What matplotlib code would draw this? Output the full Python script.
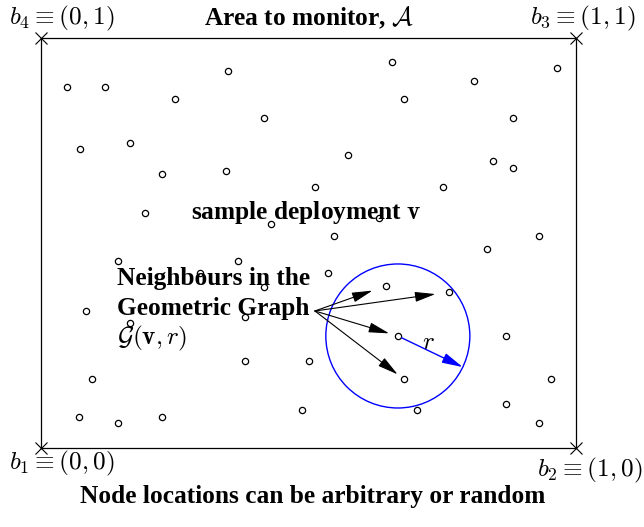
import numpy as np
import matplotlib
matplotlib.use("Agg")
import matplotlib.pyplot as plt
from matplotlib.patches import Ellipse

plt.rcParams['font.family'] = ['Liberation Serif', 'DejaVu Serif']
plt.rcParams['mathtext.fontset'] = 'cm'

# node locations in the unit square
node_x = [0.048, 0.120, 0.350, 0.250, 0.417, 0.072, 0.167, 0.226, 0.346, 0.513,
          0.194, 0.429, 0.656, 0.965, 0.810, 0.679, 0.882, 0.573, 0.845, 0.882,
          0.751, 0.631, 0.548, 0.930, 0.143, 0.369, 0.297, 0.417, 0.536, 0.084,
          0.381, 0.166, 0.381, 0.500, 0.095, 0.071, 0.143, 0.226, 0.488, 0.834,
          0.644, 0.763, 0.667, 0.870, 0.953, 0.679, 0.703, 0.870, 0.930]
node_y = [0.879, 0.879, 0.919, 0.849, 0.804, 0.727, 0.743, 0.667, 0.674, 0.636,
          0.571, 0.546, 0.940, 0.925, 0.895, 0.849, 0.804, 0.713, 0.698, 0.682,
          0.636, 0.560, 0.516, 0.516, 0.455, 0.455, 0.426, 0.392, 0.425, 0.334,
          0.318, 0.304, 0.212, 0.212, 0.166, 0.075, 0.060, 0.075, 0.091, 0.485,
          0.394, 0.379, 0.272, 0.272, 0.166, 0.166, 0.091, 0.106, 0.060]

# corners of the area
corner_x = [0, 1, 1, 0]
corner_y = [0, 0, 1, 1]

centre = 42            # node whose neighbourhood is shown
neighbours = [40, 41, 42, 45]
r = 0.1346             # radius, in x units
r_angle = -25.6        # direction of the radius arrow (deg)

W, H = 644, 527
box = (41, 447.5, 535, 410)   # left, bottom, width, height in pixels
aspect = box[2] / box[3]

fig = plt.figure(figsize=(W / 100, H / 100), dpi=100)
ax = fig.add_axes([box[0] / W, 1 - box[1] / H, box[2] / W, box[3] / H])
ax.set_xlim(0, 1)
ax.set_ylim(0, 1)
ax.axis('off')

ax.plot(corner_x + corner_x[:1], corner_y + corner_y[:1], color='k', lw=0.9, clip_on=False)
ax.plot(corner_x, corner_y, 'x', color='k', ms=9, mew=0.8, clip_on=False)
ax.plot(node_x, node_y, 'o', mfc='none', mec='k', ms=4.5, mew=0.9, ls='none',
        clip_on=False, zorder=3)

cx, cy = node_x[centre], node_y[centre]
ax.add_patch(Ellipse((cx, cy), 2 * r, 2 * r * aspect, fill=False, ec='blue', lw=1))
th = np.deg2rad(r_angle)
ax.annotate('', xy=(cx + r * np.cos(th), cy + r * aspect * np.sin(th)), xytext=(cx, cy),
            arrowprops=dict(arrowstyle='-|>,head_length=0.9,head_width=0.22', color='blue',
                            lw=1, shrinkA=3, shrinkB=0, mutation_scale=14))
ax.text(0.724, 0.254, r'$r$', fontsize=18, ha='center', va='center')

src = (0.512, 0.333)
shrinks = [10, 10, 6.5, 6]
for i, s in zip(neighbours, shrinks):
    ax.annotate('', xy=(node_x[i], node_y[i]), xytext=src,
                arrowprops=dict(arrowstyle='-|>,head_length=0.9,head_width=0.22', color='k',
                                lw=0.8, shrinkA=0, shrinkB=s, mutation_scale=14))

fm = 18.2   # maths labels
fb = 18.3   # bold labels
fig.text(9 / W, 1 - 18 / H, r'$b_4 \equiv (0,1)$', fontsize=fm, ha='left', va='center')
fig.text(530 / W, 1 - 18 / H, r'$b_3 \equiv (1,1)$', fontsize=fm, ha='left', va='center')
fig.text(9 / W, 1 - 463 / H, r'$b_1 \equiv (0,0)$', fontsize=fm, ha='left', va='center')
fig.text(537 / W, 1 - 470 / H, r'$b_2 \equiv (1,0)$', fontsize=fm, ha='left', va='center')
fig.text(309 / W, 1 - 18 / H, r'Area to monitor, $\mathcal{A}$', fontsize=fb,
         fontweight='bold', ha='center', va='center')
fig.text(313 / W, 1 - 497 / H, 'Node locations can be arbitrary or random', fontsize=fb,
         fontweight='bold', ha='center', va='center')
fig.text(306 / W, 1 - 212 / H, r'sample deployment $\mathbf{v}$', fontsize=fb,
         fontweight='bold', ha='center', va='center')
fig.text(117 / W, 1 - 278 / H, 'Neighbours in the', fontsize=fb, fontweight='bold',
         ha='left', va='center')
fig.text(117 / W, 1 - 308 / H, 'Geometric Graph', fontsize=fb, fontweight='bold',
         ha='left', va='center')
fig.text(117 / W, 1 - 338 / H, r'$\mathcal{G}(\mathbf{v},r)$', fontsize=fm,
         ha='left', va='center')

fig.savefig('out.png', dpi=100)
